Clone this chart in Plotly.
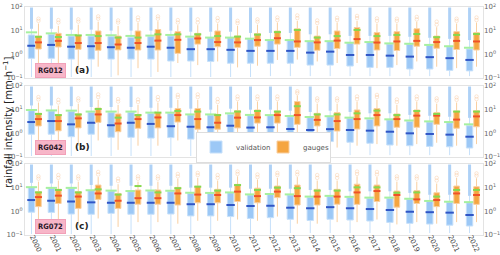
import plotly.graph_objects as go

years = ["2000","2001","2002","2003","2004","2005","2006","2007","2008","2009","2010","2011",
         "2012","2013","2014","2015","2016","2017","2018","2019","2020","2021","2022"]
tick_vals = [0.1, 1, 10, 100]
tick_text = ["10<sup>−1</sup>", "10<sup>0</sup>", "10<sup>1</sup>", "10<sup>2</sup>"]
station_names = ["RG012", "RG042", "RG072"]
panel_tags = ["(a)", "(b)", "(c)"]

# ---------- RG012 ----------
V_q1_a = [0.68,0.68,0.63,0.63,0.63,0.63,0.63,0.52,0.52,0.50,0.42,0.42,0.42,0.42,0.35,0.35,0.32,0.28,0.28,0.24,0.24,0.21,0.20]
V_med_a = [2.3,2.5,2.1,2.2,2.0,1.9,2.1,1.9,1.65,1.65,1.55,1.4,1.4,1.4,1.18,1.3,0.94,0.94,0.88,0.80,0.76,0.69,0.58]
V_q3_a = [6.6,7.0,5.9,5.9,5.6,5.2,5.6,5.9,5.0,5.0,5.0,4.4,4.0,4.0,3.5,3.5,3.0,3.2,2.7,2.65,2.4,2.1,1.68]
V_mean_a = [8.5,7.7,6.6,6.6,6.4,6.0,6.2,6.6,5.6,5.1,5.1,4.6,4.0,4.0,3.6,3.6,3.1,3.3,2.9,2.8,2.5,2.2,1.9]
V_lo_a = [0.11,0.11,0.11,0.11,0.11,0.11,0.11,0.11,0.11,0.11,0.11,0.11,0.12,0.12,0.12,0.12,0.12,0.12,0.12,0.12,0.12,0.12,0.12]
V_hi_a = [12,12,11,11,10,10,10,10,9,9,9,8,8,8,7,7,6,6,6,5.5,5,4.5,4]
V_max_a = [95,95,95,95,95,95,95,95,95,95,95,95,95,95,95,95,95,95,95,95,95,95,95]
G_q1_a = [1.68,2.05,1.63,1.48,1.54,1.52,1.52,1.10,2.7,2.1,1.97,2.2,2.7,1.97,1.48,1.75,2.7,1.52,1.45,2.2,1.8,1.6,1.52]
G_med_a = [3.2,3.7,3.0,3.0,2.6,3.0,3.8,4.1,4.7,3.3,3.2,4.0,4.8,3.5,3.2,3.8,4.4,3.15,3.5,3.7,3.3,3.7,3.5]
G_q3_a = [5.9,7.7,6.3,9.7,5.9,9.7,11.2,9.1,7.7,9.7,5.9,7.5,9.7,12.0,5.9,9.7,13.5,8.3,9.1,12.0,5.9,9.1,8.3]
G_mean_a = [5.5,5.4,6.3,5.9,5.1,5.1,7.0,7.0,7.0,5.9,5.6,6.8,8.7,10.7,5.1,5.9,10.7,5.9,6.6,7.2,5.3,6.6,7.2]
G_lo_a = [0.11,0.3,0.18,0.3,0.13,0.26,0.18,0.43,0.35,0.5,0.28,0.33,0.58,0.6,0.5,0.43,0.43,0.26,0.35,0.5,0.3,0.26,0.3]
G_hi_a = [20,16,18,24,16,22,25,17,17,20,16,18,22,26,16,22,26,20,20,24,14,20,22]
G_out_a = [[26,32],[22,28],[24,30],[32,40],[22,27],[28,36],[32,40],[22,28],[22,30],[26,34],[21,26],[24,30],
           [28,36],[34,44],[21,27],[28,35],[34,42],[26,33],[26,32],[30,38],[18,24],[26,32],[28,36]]

# ---------- RG042 ----------
V_q1_b = [0.92,0.92,0.72,0.92,0.68,0.68,0.63,0.66,0.57,0.52,0.66,0.52,0.52,0.47,0.42,0.45,0.42,0.38,0.32,0.30,0.28,0.27,0.24]
V_med_b = [3.0,3.3,2.4,2.8,2.2,2.8,2.5,2.0,1.9,1.8,2.1,1.75,1.8,1.52,1.38,1.5,1.38,1.3,1.17,1.0,0.94,0.88,0.72]
V_q3_b = [9.1,8.8,8.3,7.7,7.5,7.7,7.0,7.0,6.0,5.9,6.3,5.6,5.6,5.0,4.6,5.0,4.3,3.9,3.7,3.2,3.0,2.8,2.1]
V_mean_b = [9.7,9.3,9.1,8.3,8.3,8.3,7.5,7.5,6.3,6.3,7.0,6.0,5.9,5.4,4.9,5.3,4.6,4.3,3.9,3.5,3.2,3.0,2.4]
V_lo_b = [0.11,0.11,0.11,0.11,0.11,0.11,0.11,0.11,0.11,0.11,0.11,0.11,0.11,0.12,0.12,0.12,0.12,0.12,0.12,0.12,0.12,0.12,0.12]
V_hi_b = [15,15,14,13,13,13,12,12,11,10,11,10,10,9,8,9,8,7,7,6,5.5,5,4.5]
V_max_b = [95,95,95,95,95,95,95,95,95,95,95,95,95,95,95,95,95,95,95,95,95,95,95]
G_q1_b = [2.05,1.28,1.7,2.9,1.17,1.63,1.7,3.0,1.5,1.5,1.7,2.7,2.7,2.4,2.05,1.25,1.52,2.05,1.8,1.8,2.4,1.65,1.9]
G_med_b = [4.0,3.3,4.3,6.3,2.6,4.0,4.7,5.9,4.0,2.8,4.6,4.7,5.9,5.9,3.7,3.3,4.0,5.9,4.0,5.6,5.6,3.8,5.2]
G_q3_b = [7.0,5.9,6.6,11.7,6.6,6.3,7.5,11.2,11.2,6.3,9.1,9.7,8.8,22,7.0,7.5,9.7,11.2,6.6,9.7,7.5,8.8,9.0]
G_mean_b = [6.6,5.9,6.3,10.7,4.6,5.9,7.5,8.8,8.3,5.9,8.3,8.8,8.3,14,6.3,6.3,7.0,9.1,5.9,8.8,6.6,8.3,8.3]
G_lo_b = [0.35,0.22,0.3,0.5,0.2,0.3,0.3,0.5,0.25,0.3,0.3,0.45,0.4,0.4,0.35,0.25,0.3,0.35,0.3,0.35,0.4,0.3,0.35]
G_hi_b = [20,15,18,26,16,16,20,26,26,16,22,22,22,40,18,18,22,26,16,22,18,20,22]
G_out_b = [[27,34],[20,26],[24,30],[34,44],[22,28],[21,27],[26,34],[34,42],[34,44],[21,28],[28,36],[28,36],
           [28,36],[50,60],[24,30],[24,30],[28,36],[34,42],[21,27],[28,36],[24,30],[26,33],[28,36]]

# ---------- RG072 ----------
V_q1_c = [0.92,0.9,0.77,0.75,0.82,0.75,0.75,0.77,0.64,0.64,0.6,0.5,0.54,0.46,0.41,0.46,0.43,0.39,0.34,0.31,0.29,0.26,0.24]
V_med_c = [3.0,2.8,2.6,2.4,2.3,2.3,2.3,2.3,2.0,2.0,1.85,1.68,1.72,1.42,1.35,1.5,1.35,1.25,1.14,0.96,0.92,0.88,0.7]
V_q3_c = [10,9.5,9.5,7.5,7.2,6.8,7.2,6.8,5.7,5.7,6.1,4.9,5.1,4.9,3.9,4.2,3.9,3.6,3.6,3.2,2.6,2.4,2.3]
V_mean_c = [10.5,9.8,9.8,7.8,7.5,7.2,7.6,7.4,6.1,6.0,6.3,5.2,5.4,5.2,4.2,4.5,4.1,3.8,3.8,3.4,2.75,2.55,2.45]
V_lo_c = [0.11,0.11,0.11,0.11,0.11,0.11,0.11,0.11,0.11,0.11,0.11,0.11,0.11,0.12,0.12,0.12,0.12,0.12,0.12,0.12,0.12,0.12,0.12]
V_hi_c = [16,15,15,13,12,12,12,12,10,10,10,9,9,9,8,8,7,7,7,6,5,5,4.5]
V_max_c = [95,95,95,95,95,95,95,95,95,95,95,95,95,95,95,95,95,95,95,95,95,95,95]
G_q1_c = [1.58,2.15,1.33,3.2,1.33,2.0,2.0,1.85,2.3,2.3,2.6,2.3,3.8,1.85,1.85,2.0,1.97,2.6,1.5,2.15,1.58,2.15,1.97]
G_med_c = [4.0,4.6,4.2,5.7,2.8,3.6,3.6,5.7,5.1,4.9,6.8,4.4,6.8,4.4,4.2,4.2,6.3,7.2,4.9,3.2,3.0,5.7,4.9]
G_q3_c = [6.8,8.5,6.8,12.9,5.7,8.0,8.0,10.3,11.5,8.5,13.8,9.5,11.7,12.9,8.5,8.5,14,12.9,7.2,7.5,6.1,11.7,11]
G_mean_c = [6.3,8.0,6.3,8.5,5.1,11.7,6.3,9.5,11,7.5,12.9,8.0,10,9.5,7.5,7.5,10.3,10.3,6.1,6.3,4.2,8.0,8.0]
G_lo_c = [0.3,0.4,0.25,0.5,0.22,0.35,0.35,0.3,0.4,0.4,0.45,0.4,0.6,0.3,0.3,0.35,0.35,0.45,0.28,0.35,0.3,0.35,0.35]
G_hi_c = [18,20,18,28,14,18,18,24,26,20,30,22,26,28,20,20,30,28,18,18,15,26,25]
G_out_c = [[24,30],[26,34],[24,30],[36,46],[19,24],[24,30],[24,30],[30,38],[34,42],[26,34],[38,48],[28,36],
           [34,42],[36,46],[26,34],[26,34],[38,48],[36,46],[24,30],[24,30],[20,26],[34,42],[32,40]]

panels = [
    dict(vq1=V_q1_a, vmed=V_med_a, vq3=V_q3_a, vmean=V_mean_a, vlo=V_lo_a, vhi=V_hi_a, vmax=V_max_a,
         gq1=G_q1_a, gmed=G_med_a, gq3=G_q3_a, gmean=G_mean_a, glo=G_lo_a, ghi=G_hi_a, gout=G_out_a),
    dict(vq1=V_q1_b, vmed=V_med_b, vq3=V_q3_b, vmean=V_mean_b, vlo=V_lo_b, vhi=V_hi_b, vmax=V_max_b,
         gq1=G_q1_b, gmed=G_med_b, gq3=G_q3_b, gmean=G_mean_b, glo=G_lo_b, ghi=G_hi_b, gout=G_out_b),
    dict(vq1=V_q1_c, vmed=V_med_c, vq3=V_q3_c, vmean=V_mean_c, vlo=V_lo_c, vhi=V_hi_c, vmax=V_max_c,
         gq1=G_q1_c, gmed=G_med_c, gq3=G_q3_c, gmean=G_mean_c, glo=G_lo_c, ghi=G_hi_c, gout=G_out_c),
]

# styles
W, H = 500, 255
OFF = 0.175
V_FILL, V_LINE, V_MED, V_STRIP = "#9cc8f6", "#c6e0fa", "#2f55c6", "rgba(120,178,240,0.6)"
G_FILL, G_LINE, G_MED, G_OUT = "#f5a540", "#f9cfa0", "#ef5128", "rgba(248,196,150,0.4)"
V_MEAN, G_MEAN = "#a6f0a0", "#86d84e"
FRAME = "#e3e3e3"
FONT = "DejaVu Sans"

x0, x1 = 25, 483
panel_px = [(7, 78), (86, 157), (164, 235)]

fig = go.Figure()
n = len(years)
idx = list(range(n))
xv = [i - OFF for i in idx]
xg = [i + OFF for i in idx]

for p, d in enumerate(panels):
    xa = "x" if p == 0 else f"x{2*p+1}"
    ya = "y" if p == 0 else f"y{2*p+1}"
    ya2 = f"y{2*p+2}"
    sx, sy = [], []
    for i in idx:
        sx += [xv[i], xv[i], None]
        sy += [d["vhi"][i], d["vmax"][i], None]
    fig.add_trace(go.Scatter(x=sx, y=sy, mode="lines", line=dict(color=V_STRIP, width=3),
                             xaxis=xa, yaxis=ya, showlegend=False, hoverinfo="skip"))
    fig.add_trace(go.Box(x=xv, q1=d["vq1"], median=d["vmed"], q3=d["vq3"],
                         lowerfence=d["vlo"], upperfence=d["vhi"], width=0.32,
                         fillcolor=V_FILL, line=dict(color=V_LINE, width=1), whiskerwidth=0,
                         boxpoints=False, name="validation", legendgroup="v",
                         showlegend=(p == 0), xaxis=xa, yaxis=ya, hoverinfo="skip"))
    fig.add_trace(go.Box(x=xg, q1=d["gq1"], median=d["gmed"], q3=d["gq3"],
                         lowerfence=d["glo"], upperfence=d["ghi"], width=0.28,
                         fillcolor=G_FILL, line=dict(color=G_LINE, width=1), whiskerwidth=0,
                         boxpoints=False, name="gauges", legendgroup="g",
                         showlegend=(p == 0), xaxis=xa, yaxis=ya2, hoverinfo="skip"))
    ox, oy = [], []
    for i in idx:
        for v in d["gout"][i]:
            ox.append(xg[i]); oy.append(v)
    fig.add_trace(go.Scatter(x=ox, y=oy, mode="markers",
                             marker=dict(symbol="circle-open", size=3.5, color=G_OUT, line=dict(width=1, color=G_OUT)),
                             xaxis=xa, yaxis=ya2, showlegend=False, hoverinfo="skip"))
    fig.add_trace(go.Scatter(x=xv, y=d["vmed"], mode="markers",
                             marker=dict(symbol="line-ew", size=6, line=dict(width=2, color=V_MED)),
                             xaxis=xa, yaxis=ya, showlegend=False, hoverinfo="skip"))
    fig.add_trace(go.Scatter(x=xg, y=d["gmed"], mode="markers",
                             marker=dict(symbol="line-ew", size=5, line=dict(width=2, color=G_MED)),
                             xaxis=xa, yaxis=ya2, showlegend=False, hoverinfo="skip"))
    fig.add_trace(go.Scatter(x=xv, y=d["vmean"], mode="markers",
                             marker=dict(symbol="line-ew", size=8, line=dict(width=2, color=V_MEAN)),
                             xaxis=xa, yaxis=ya, showlegend=False, hoverinfo="skip"))
    fig.add_trace(go.Scatter(x=xg, y=d["gmean"], mode="markers",
                             marker=dict(symbol="line-ew", size=5, line=dict(width=2, color=G_MEAN)),
                             xaxis=xa, yaxis=ya2, showlegend=False, hoverinfo="skip"))

layout = dict(
    width=W, height=H, margin=dict(l=0, r=0, t=0, b=0),
    paper_bgcolor="white", plot_bgcolor="white",
    font=dict(family=FONT, size=7, color="#555555"),
    showlegend=True, hovermode=False,
    legend=dict(orientation="h", x=196 / W, y=1 - 147 / H, xanchor="left", yanchor="middle",
                bgcolor="white", bordercolor="#dddddd", borderwidth=1,
                font=dict(size=7, color="#555555"), itemwidth=30, tracegroupgap=0,
                entrywidth=22, entrywidthmode="pixels"),
)

for p, (top, bot) in enumerate(panel_px):
    xk = "xaxis" if p == 0 else f"xaxis{2*p+1}"
    yk = "yaxis" if p == 0 else f"yaxis{2*p+1}"
    yk2 = f"yaxis{2*p+2}"
    ya_name = "y" if p == 0 else f"y{2*p+1}"
    xa_name = "x" if p == 0 else f"x{2*p+1}"
    dom_y = [1 - bot / H, 1 - top / H]
    layout[xk] = dict(domain=[x0 / W, x1 / W], range=[-0.5, n - 0.5], anchor=ya_name,
                      showline=True, mirror=True, linecolor=FRAME, linewidth=1,
                      showgrid=False, zeroline=False, ticks="",
                      tickmode="array", tickvals=idx, ticktext=years,
                      showticklabels=(p == 2), tickangle=65, ticklabelstandoff=-6,
                      ticklabelshift=-2,
                      tickfont=dict(size=7, color="#444444"), automargin=False)
    common_y = dict(type="log", range=[-1, 2], domain=dom_y, tickmode="array",
                    tickvals=tick_vals, ticktext=tick_text, showgrid=False, zeroline=False,
                    ticks="", tickfont=dict(size=7, color="#666666"), automargin=False,
                    ticklabeloverflow="allow")
    layout[yk] = dict(common_y, anchor=xa_name, showline=True, mirror=True,
                      linecolor=FRAME, linewidth=1, side="left")
    layout[yk2] = dict(common_y, anchor=xa_name, overlaying=ya_name,
                       side="right", showline=False)

annotations = [dict(text="rainfall intensity [mm h<sup>−1</sup>]", x=8 / W, y=1 - 122 / H,
                    xref="paper", yref="paper", xanchor="center", yanchor="middle",
                    textangle=-90, showarrow=False,
                    font=dict(size=10, color="#222222"))]
label_y = [70, 147, 226]
for p in range(3):
    annotations.append(dict(text="<b>" + station_names[p] + "</b>", x=50 / W, y=1 - label_y[p] / H,
                            xref="paper", yref="paper", xanchor="center", yanchor="middle",
                            showarrow=False,
                            font=dict(family="DejaVu Sans Condensed", size=7.5, color="#2a1828"),
                            bgcolor="#f7b6c8", bordercolor="#f2a0b8", borderwidth=1, borderpad=2))
    annotations.append(dict(text="<b>" + panel_tags[p] + "</b>", x=82 / W, y=1 - label_y[p] / H,
                            xref="paper", yref="paper", xanchor="center", yanchor="middle",
                            showarrow=False,
                            font=dict(size=9, color="#222222")))
layout["annotations"] = annotations

fig.update_layout(**layout)
fig.write_html("out.html", config={"displayModeBar": False, "staticPlot": True})

# remove the browser's default page margin so the figure sits at the window origin
with open("out.html", encoding="utf-8") as fh:
    page = fh.read()
page = page.replace("<head>", "<head><style>html,body{margin:0;padding:0;}</style>", 1)
with open("out.html", "w", encoding="utf-8") as fh:
    fh.write(page)
